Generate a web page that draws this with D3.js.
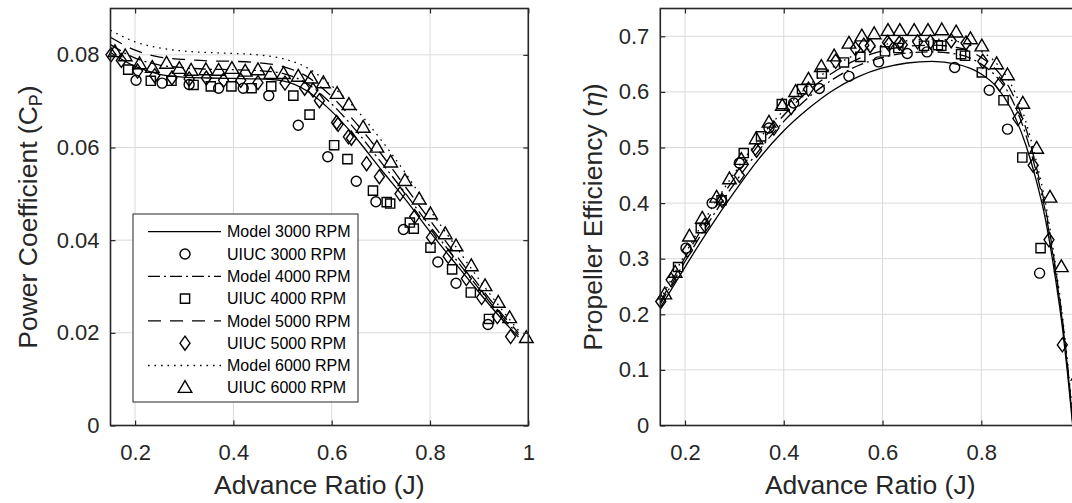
<!DOCTYPE html>
<meta charset="utf-8">
<style>
  body { margin: 0; background: #fff; }
  svg { font-family: "Liberation Sans", Arial, sans-serif; }
</style>
<svg id="chart" width="1072" height="503"></svg>
<script src="https://cdn.jsdelivr.net/npm/d3@7"></script>
<script>

// ---- model curves ----
var modelJ = [0.15, 0.2, 0.25, 0.3, 0.35, 0.4, 0.45, 0.5, 0.55, 0.6, 0.65, 0.7, 0.75, 0.8, 0.85, 0.9, 0.95, 0.98];
var cpModel3000 = [0.0805, 0.0775, 0.0758, 0.0752, 0.075, 0.0749, 0.0748, 0.0744, 0.0722, 0.0678, 0.062, 0.0553, 0.0488, 0.0418, 0.0352, 0.0287, 0.0225, 0.0191];
var cpModel4000 = [0.0822, 0.0793, 0.0778, 0.0772, 0.0769, 0.0768, 0.0766, 0.076, 0.0738, 0.0694, 0.0636, 0.0569, 0.0501, 0.043, 0.0362, 0.0295, 0.023, 0.0196];
var cpModel5000 = [0.0838, 0.081, 0.0795, 0.079, 0.0787, 0.0786, 0.0783, 0.0775, 0.0753, 0.071, 0.0652, 0.0587, 0.0515, 0.0443, 0.0372, 0.0302, 0.0236, 0.02];
var cpModel6000 = [0.0853, 0.0828, 0.0815, 0.0808, 0.0805, 0.0803, 0.08, 0.0792, 0.0772, 0.0733, 0.0682, 0.0617, 0.0545, 0.0465, 0.039, 0.0315, 0.0245, 0.0205];

var etaModelJ = [0.15, 0.2, 0.25, 0.3, 0.35, 0.4, 0.45, 0.5, 0.55, 0.6, 0.65, 0.7, 0.75, 0.8, 0.83, 0.86, 0.89, 0.91, 0.93, 0.95, 0.965, 0.975, 0.985];
var etaModel3000 = [0.212, 0.285, 0.355, 0.42, 0.48, 0.53, 0.57, 0.603, 0.627, 0.643, 0.652, 0.655, 0.65, 0.632, 0.61, 0.57, 0.505, 0.445, 0.37, 0.265, 0.17, 0.09, 0.0];
var etaModel4000 = [0.218, 0.295, 0.368, 0.435, 0.495, 0.547, 0.59, 0.623, 0.647, 0.662, 0.67, 0.672, 0.668, 0.65, 0.628, 0.59, 0.523, 0.46, 0.383, 0.277, 0.18, 0.1, 0.005];
var etaModel5000 = [0.222, 0.302, 0.377, 0.445, 0.506, 0.558, 0.602, 0.635, 0.659, 0.674, 0.682, 0.684, 0.68, 0.662, 0.64, 0.602, 0.535, 0.47, 0.39, 0.283, 0.185, 0.105, 0.01];
var etaModel6000 = [0.226, 0.308, 0.385, 0.454, 0.515, 0.567, 0.611, 0.645, 0.669, 0.684, 0.692, 0.695, 0.691, 0.673, 0.652, 0.614, 0.547, 0.48, 0.4, 0.29, 0.19, 0.11, 0.015];

// ---- UIUC measurements ----
var uiucJ3000 = [0.202, 0.255, 0.31, 0.37, 0.42, 0.472, 0.532, 0.592, 0.65, 0.69, 0.746, 0.816, 0.853, 0.918];
var uiucCp3000 = [0.0745, 0.0739, 0.0736, 0.0728, 0.0728, 0.0712, 0.0648, 0.058, 0.0527, 0.0483, 0.0423, 0.0353, 0.0307, 0.0218];
var uiucEta3000 = [0.319, 0.40, 0.472, 0.535, 0.58, 0.606, 0.628, 0.654, 0.669, 0.672, 0.644, 0.603, 0.533, 0.274];

var uiucJ4000 = [0.186, 0.232, 0.274, 0.319, 0.354, 0.396, 0.437, 0.477, 0.522, 0.555, 0.605, 0.632, 0.684, 0.712, 0.719, 0.759, 0.767, 0.801, 0.845, 0.883, 0.92];
var uiucCp4000 = [0.0768, 0.0744, 0.0744, 0.0735, 0.0732, 0.0732, 0.0728, 0.0732, 0.0712, 0.0671, 0.0605, 0.0575, 0.0507, 0.0482, 0.0479, 0.0438, 0.0425, 0.0384, 0.0337, 0.0287, 0.023];
var uiucEta4000 = [0.285, 0.355, 0.405, 0.49, 0.52, 0.578, 0.605, 0.633, 0.653, 0.663, 0.673, 0.679, 0.683, 0.684, 0.683, 0.668, 0.665, 0.635, 0.585, 0.482, 0.319];

var uiucJ5000 = [0.151, 0.172, 0.205, 0.24, 0.275, 0.31, 0.345, 0.38, 0.415, 0.45, 0.505, 0.545, 0.562, 0.575, 0.61, 0.613, 0.634, 0.64, 0.671, 0.697, 0.739, 0.769, 0.803, 0.837, 0.874, 0.905, 0.937, 0.964];
var uiucCp5000 = [0.08, 0.0788, 0.0765, 0.0755, 0.075, 0.0748, 0.075, 0.0745, 0.0745, 0.074, 0.0739, 0.0728, 0.0724, 0.0701, 0.0654, 0.065, 0.0623, 0.062, 0.0565, 0.0537, 0.05, 0.0451, 0.0406, 0.0365, 0.0317, 0.0276, 0.0235, 0.0192];
var uiucEta5000 = [0.223, 0.262, 0.315, 0.36, 0.405, 0.45, 0.495, 0.535, 0.572, 0.605, 0.655, 0.678, 0.684, 0.683, 0.689, 0.686, 0.688, 0.685, 0.69, 0.69, 0.692, 0.688, 0.655, 0.614, 0.552, 0.468, 0.334, 0.145];

var uiucJ6000 = [0.159, 0.18, 0.209, 0.235, 0.264, 0.29, 0.314, 0.344, 0.37, 0.397, 0.424, 0.45, 0.476, 0.502, 0.532, 0.558, 0.583, 0.611, 0.635, 0.664, 0.692, 0.72, 0.749, 0.778, 0.801, 0.831, 0.853, 0.884, 0.912, 0.939, 0.962, 0.996];
var uiucCp6000 = [0.0806, 0.0797, 0.078, 0.0772, 0.0781, 0.077, 0.0766, 0.0767, 0.0766, 0.077, 0.0764, 0.0767, 0.0759, 0.0759, 0.0753, 0.0749, 0.0739, 0.0716, 0.0692, 0.0643, 0.06, 0.0568, 0.0528, 0.0488, 0.0456, 0.0413, 0.0387, 0.0344, 0.0301, 0.0265, 0.0232, 0.0189];
var uiucEta6000 = [0.236, 0.275, 0.34, 0.372, 0.41, 0.443, 0.478, 0.515, 0.545, 0.575, 0.6, 0.622, 0.645, 0.664, 0.687, 0.7, 0.704, 0.71, 0.71, 0.71, 0.71, 0.711, 0.707, 0.695, 0.682, 0.65, 0.63, 0.579, 0.498, 0.41, 0.285, 0.09];

var xTicks = [0.2, 0.4, 0.6, 0.8, 1];
var cpTicks = [0, 0.02, 0.04, 0.06, 0.08];
var etaTicks = [0, 0.1, 0.2, 0.3, 0.4, 0.5, 0.6, 0.7];

var legendLabels = ["Model 3000 RPM", "UIUC 3000 RPM", "Model 4000 RPM", "UIUC 4000 RPM",
                    "Model 5000 RPM", "UIUC 5000 RPM", "Model 6000 RPM", "UIUC 6000 RPM"];

// ---- styles ----
var ink = "#262626",
    dashes = ["none", "12,4,2,4", "13,9", "1.6,4.9"],
    markers = ["circle", "square", "diamond", "triangle"];

function markerPath(type) {
  if (type == "circle") return "M5,0A5,5 0 1,1 -5,0A5,5 0 1,1 5,0Z";
  if (type == "square") return "M-4.6,-4.6H4.6V4.6H-4.6Z";
  if (type == "diamond") return "M0,-7L5,0L0,7L-5,0Z";
  return "M0,-7.2L6.8,4.6H-6.8Z";
}

var svg = d3.select("#chart"),
    top_ = 8.5, bottom = 425.5,
    W = +svg.attr("width");

function panel(opt) {
  var x = d3.scaleLinear().domain([0.15, 1]).range([opt.left, opt.right]),
      y = d3.scaleLinear().domain([0, opt.yMax]).range([bottom, top_]),
      g = svg.append("g");

  // grid
  g.append("g").selectAll("line").data(xTicks).enter().append("line")
      .attr("x1", x).attr("x2", x).attr("y1", top_).attr("y2", bottom)
      .attr("stroke", "#dadada").attr("stroke-width", 1);
  g.append("g").selectAll("line").data(opt.yTicks).enter().append("line")
      .attr("x1", opt.left).attr("x2", opt.right).attr("y1", y).attr("y2", y)
      .attr("stroke", "#dadada").attr("stroke-width", 1);

  var clipId = "clip" + opt.id;
  svg.append("clipPath").attr("id", clipId).append("rect")
      .attr("x", opt.left).attr("y", top_)
      .attr("width", opt.right - opt.left).attr("height", bottom - top_);

  // model lines
  var line = d3.line().curve(d3.curveMonotoneX)
      .x(function(d) { return x(d[0]); })
      .y(function(d) { return y(d[1]); });

  opt.models.forEach(function(vals, i) {
    g.append("path")
        .datum(d3.zip(opt.modelJ, vals))
        .attr("clip-path", "url(#" + clipId + ")")
        .attr("fill", "none")
        .attr("stroke", "#000")
        .attr("stroke-width", 1.3)
        .attr("stroke-dasharray", dashes[i])
        .attr("d", line);
  });

  // UIUC markers
  opt.data.forEach(function(s, i) {
    g.append("g").selectAll("path").data(d3.zip(s[0], s[1])).enter().append("path")
        .attr("transform", function(d) { return "translate(" + x(d[0]) + "," + y(d[1]) + ")"; })
        .attr("d", markerPath(markers[i]))
        .attr("fill", "none")
        .attr("stroke", "#000")
        .attr("stroke-width", 1.4);
  });

  // axes, ticks inward, box on
  // labels only for ticks that fall inside the picture
  var xLabelTicks = xTicks.filter(function(t) { return x(t) + 8 < W; });
  g.append("g").attr("transform", "translate(0," + bottom + ")")
      .call(d3.axisBottom(x).tickValues(xLabelTicks).tickFormat(d3.format("~g")).tickSize(-5).tickPadding(19));
  g.append("g").attr("transform", "translate(" + opt.left + ",0)")
      .call(d3.axisLeft(y).tickValues(opt.yTicks).tickFormat(d3.format("~g")).tickSize(-5).tickPadding(11));
  g.append("g").attr("transform", "translate(0," + top_ + ")")
      .call(d3.axisTop(x).tickValues(xTicks).tickFormat("").tickSize(-5));
  g.append("g").attr("transform", "translate(" + opt.right + ",0)")
      .call(d3.axisRight(y).tickValues(opt.yTicks).tickFormat("").tickSize(-5));
  g.selectAll(".domain").remove();
  g.selectAll(".tick line").attr("stroke", ink).attr("stroke-width", 1.2);
  g.selectAll(".tick text").attr("fill", ink).style("font-size", "22px")
      .style("font-family", '"Liberation Sans", Arial, sans-serif');

  g.append("rect")
      .attr("x", opt.left).attr("y", top_)
      .attr("width", opt.right - opt.left).attr("height", bottom - top_)
      .attr("fill", "none").attr("stroke", ink).attr("stroke-width", 1.6);

  g.append("text")
      .attr("x", (opt.left + opt.right) / 2).attr("y", 494)
      .attr("text-anchor", "middle").attr("fill", ink)
      .style("font-size", "26.5px")
      .text("Advance Ratio (J)");

  var yl = g.append("text")
      .attr("transform", "translate(" + opt.labelX + "," + (top_ + bottom) / 2 + ") rotate(-90)")
      .attr("text-anchor", "middle").attr("fill", ink)
      .style("font-size", "26.5px");
  opt.yLabel(yl);
  return {x: x, y: y, g: g};
}

var left = panel({
  id: 1, left: 110.5, right: 528.3, yMax: 0.09, yTicks: cpTicks, labelX: 37,
  modelJ: modelJ, models: [cpModel3000, cpModel4000, cpModel5000, cpModel6000],
  data: [[uiucJ3000, uiucCp3000], [uiucJ4000, uiucCp4000], [uiucJ5000, uiucCp5000], [uiucJ6000, uiucCp6000]],
  yLabel: function(t) {
    t.append("tspan").text("Power Coefficient (C");
    t.append("tspan").attr("baseline-shift", "-28%").style("font-size", "18px").text("P");
    t.append("tspan").text(")");
  }
});

var right = panel({
  id: 2, left: 660.3, right: 1080.1, yMax: 0.75, yTicks: etaTicks, labelX: 602,
  modelJ: etaModelJ, models: [etaModel3000, etaModel4000, etaModel5000, etaModel6000],
  data: [[uiucJ3000, uiucEta3000], [uiucJ4000, uiucEta4000], [uiucJ5000, uiucEta5000], [uiucJ6000, uiucEta6000]],
  yLabel: function(t) {
    t.append("tspan").text("Propeller Efficiency (");
    t.append("tspan").style("font-family", '"DejaVu Serif", serif').style("font-style", "italic").text("η");
    t.append("tspan").text(")");
  }
});

// ---- legend ----
var lg = svg.append("g");
lg.append("rect")
    .attr("x", 133).attr("y", 214).attr("width", 225).attr("height", 188)
    .attr("fill", "#fff").attr("stroke", ink).attr("stroke-width", 1);

var rows = lg.selectAll("g.row").data(legendLabels).enter().append("g")
    .attr("class", "row")
    .attr("transform", function(d, i) { return "translate(0," + (231.7 + i * 22.3) + ")"; });

rows.each(function(d, i) {
  var r = d3.select(this), k = Math.floor(i / 2);
  if (i % 2 == 0) {
    r.append("line").attr("x1", 148).attr("x2", 221).attr("y1", 0).attr("y2", 0)
        .attr("stroke", "#000").attr("stroke-width", 1.3).attr("stroke-dasharray", dashes[k]);
  } else {
    r.append("path").attr("transform", "translate(185,0)").attr("d", markerPath(markers[k]))
        .attr("fill", "none").attr("stroke", "#000").attr("stroke-width", 1.4);
  }
  r.append("text").attr("x", 227).attr("dy", "0.35em").attr("fill", "#000")
      .style("font-size", "16px").text(d);
});

</script>
